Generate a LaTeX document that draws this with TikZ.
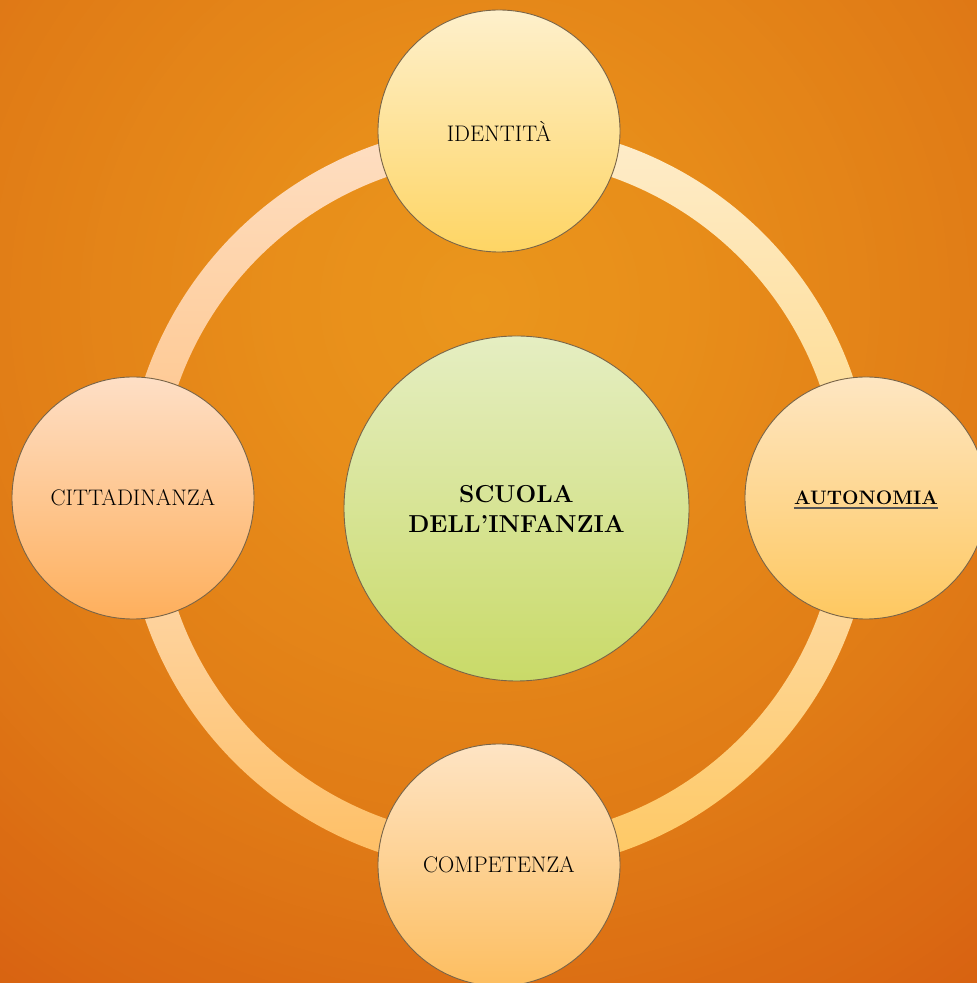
\documentclass[tikz,border=0pt]{standalone}
\definecolor{bgA}{HTML}{EA961C}
\definecolor{bgB}{HTML}{E88E1A}
\definecolor{bgC}{HTML}{E07B16}
\definecolor{bgD}{HTML}{D86211}
\definecolor{circline}{HTML}{7A6548}
\definecolor{ulcol}{HTML}{555555}
\definecolor{topA}{HTML}{FEF0CC}\definecolor{topB}{HTML}{FED564}
\definecolor{rgtA}{HTML}{FEE6C2}\definecolor{rgtB}{HTML}{FEC860}
\definecolor{lftA}{HTML}{FEDFC6}\definecolor{lftB}{HTML}{FEAF5C}
\definecolor{botA}{HTML}{FEE4C4}\definecolor{botB}{HTML}{FDBE60}
\definecolor{cenA}{HTML}{E5EEC2}\definecolor{cenB}{HTML}{C9DA68}
\definecolor{rTLa}{HTML}{FEDFC4}\definecolor{rTLb}{HTML}{FEC283}
\definecolor{rTRa}{HTML}{FEEDCC}\definecolor{rTRb}{HTML}{FED886}
\definecolor{rBLa}{HTML}{FEDCB8}\definecolor{rBLb}{HTML}{FEBE62}
\definecolor{rBRa}{HTML}{FEDEB2}\definecolor{rBRb}{HTML}{FEC862}
\tikzset{
  sat/.style={circle, draw=circline, line width=0.9pt, minimum size=242pt, inner sep=0pt,
    font=\fontsize{22.5}{26}\selectfont},
  hub/.style={circle, draw=circline, line width=0.9pt, minimum size=345pt, inner sep=0pt,
    align=center, font=\bfseries\fontsize{24.5}{30}\selectfont},
}
\begin{document}
\begin{tikzpicture}[x=1pt,y=1pt]
\useasboundingbox (0,0) rectangle (977,983);
\coordinate (bgc) at (480,680);
\begin{scope}
  \clip (0,0) rectangle (977,983);
  \fill[bgD] (0,0) rectangle (977,983);
  \foreach \r in {900,890,...,540}{
    \pgfmathtruncatemacro{\p}{min(100,max(0,(\r-540)/310*100))}
    \fill[bgD!\p!bgC] (bgc) circle[radius=\r pt];
  }
  \foreach \r in {530,520,...,200}{
    \pgfmathtruncatemacro{\p}{(\r-200)/340*100}
    \fill[bgC!\p!bgB] (bgc) circle[radius=\r pt];
  }
  \foreach \r in {190,180,...,10}{
    \pgfmathtruncatemacro{\p}{\r/200*100}
    \fill[bgB!\p!bgA] (bgc) circle[radius=\r pt];
  }
\end{scope}
\coordinate (rc) at (499,485);
% ring quadrants
\shade[top color=rTLa, bottom color=rTLb]
  ([shift={(90:374pt)}]rc) arc[start angle=90, end angle=180, radius=374pt]
  -- ([shift={(180:340pt)}]rc) arc[start angle=180, end angle=90, radius=340pt] -- cycle;
\shade[top color=rTRa, bottom color=rTRb]
  ([shift={(0:374pt)}]rc) arc[start angle=0, end angle=90, radius=374pt]
  -- ([shift={(90:340pt)}]rc) arc[start angle=90, end angle=0, radius=340pt] -- cycle;
\shade[top color=rBLa, bottom color=rBLb]
  ([shift={(180:374pt)}]rc) arc[start angle=180, end angle=270, radius=374pt]
  -- ([shift={(270:340pt)}]rc) arc[start angle=270, end angle=180, radius=340pt] -- cycle;
\shade[top color=rBRa, bottom color=rBRb]
  ([shift={(270:374pt)}]rc) arc[start angle=270, end angle=360, radius=374pt]
  -- ([shift={(0:340pt)}]rc) arc[start angle=360, end angle=270, radius=340pt] -- cycle;
% nodes
\node[hub, top color=cenA, bottom color=cenB] (scuola) at (516.5,474.5) {SCUOLA\\DELL’INFANZIA};
\node[sat, top color=topA, bottom color=topB] (identita) at (499,852) {IDENTITÀ};
\node[sat, top color=rgtA, bottom color=rgtB] (autonomia) at (866,485) {};
\node[sat, top color=botA, bottom color=botB] (competenza) at (499,118) {COMPETENZA};
\node[sat, top color=lftA, bottom color=lftB] (cittadinanza) at (133,485) {CITTADINANZA};
\node[inner sep=0pt, font=\bfseries\fontsize{19.5}{22}\selectfont] (autlabel) at (autonomia) {AUTONOMIA};
\draw[line width=2pt, ulcol] ([yshift=-3pt]autlabel.base west) -- ([yshift=-3pt]autlabel.base east);
\end{tikzpicture}
\end{document}
